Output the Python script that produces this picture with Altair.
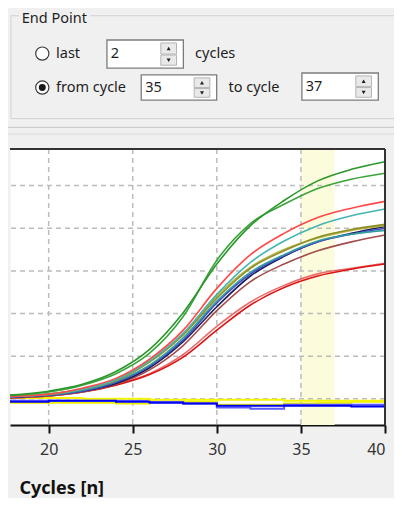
import altair as alt
import pandas as pd

# ---------------- data ----------------
cycles = [17, 20, 22, 24, 26, 28, 30, 32, 34, 36, 38, 40]
green_a = [70, 180, 340, 640, 1160, 2020, 3160, 4060, 4650, 5110, 5380, 5560]
green_b = [70, 160, 320, 590, 1070, 1930, 3250, 4110, 4560, 4930, 5150, 5290]
red_a = [50, 110, 250, 480, 930, 1610, 2590, 3380, 3880, 4250, 4470, 4630]
teal_a = [50, 110, 230, 450, 890, 1540, 2450, 3200, 3700, 4060, 4290, 4450]
olive_a = [50, 110, 230, 430, 860, 1500, 2360, 3060, 3470, 3790, 3970, 4090]
olive_b = [50, 110, 230, 450, 890, 1520, 2410, 3090, 3500, 3770, 3950, 4060]
teal_b = [50, 90, 200, 410, 790, 1430, 2290, 2970, 3380, 3700, 3860, 3950]
navy_a = [20, 90, 180, 360, 730, 1340, 2160, 2880, 3340, 3680, 3880, 4040]
blue_a = [20, 90, 180, 390, 770, 1380, 2250, 2930, 3360, 3680, 3860, 4000]
brown_a = [20, 70, 160, 340, 680, 1250, 2070, 2750, 3160, 3470, 3680, 3840]
red_b = [20, 70, 160, 320, 570, 980, 1610, 2200, 2610, 2880, 3040, 3160]
red_c = [20, 70, 160, 340, 590, 1040, 1700, 2270, 2660, 2930, 3060, 3180]
yellow_a = [20, 20, 0, 0, -20, -20, -20, -20, -45, -45, -45, -45]
yellow_b = [-90, -90, -90, -110, -70, -70, -140, -140, -110, -90, -70, -45]
blue_b = [-70, -45, -45, -70, -90, -110, -160, -160, -160, -160, -180, -250]
blue_c = [-45, -45, -45, -45, -70, -110, -200, -230, -140, -140, -140, -180]

amp_names = ["red_c", "red_b", "brown_a", "navy_a", "blue_a", "teal_b", "olive_b",
             "olive_a", "teal_a", "red_a", "green_b", "green_a"]
amp_series = [red_c, red_b, brown_a, navy_a, blue_a, teal_b, olive_b,
              olive_a, teal_a, red_a, green_b, green_a]
amp_colors = ["#e86a6a", "#dd1414", "#a34c4c", "#1c1c5c", "#4646c4", "#2f9f9f", "#b4b43e",
              "#8f8f28", "#45b4b4", "#ff4848", "#3aa43a", "#2c962c"]
base_names = ["yellow_b", "blue_c", "yellow_a", "blue_b"]
base_series = [yellow_b, blue_c, yellow_a, blue_b]
base_colors = ["#eded00", "#5a5aff", "#f5f500", "#0000ee"]

x_ticks = [20, 25, 30, 35, 40]
x_grid = [20, 25, 30, 35]
y_grid = [0, 1000, 2000, 3000, 4000, 5000]
x_domain = [17.7, 40]
y_domain = [-613, 5857]
band_start, band_end = 35, 37

end_point_title = "End Point"
last_value, from_value, to_value = "2", "35", "37"

# ---------------- layout helpers ----------------
PL, PT, W, H = 2, 141, 375, 276
PR, PB = 9, 73
SX, SY = 386 / 394, 490 / 505


def X(rx):
    return (rx - 8) * SX - PL


def Y(ry):
    return (ry - 8) * SY - PT


UI_FONT = "Noto Sans"
one = pd.DataFrame({"k": [0]})

amp_df = pd.DataFrame(
    [{"cycle": c, "value": v, "well": n} for n, s in zip(amp_names, amp_series) for c, v in zip(cycles, s)]
)
base_df = pd.DataFrame(
    [{"cycle": c, "value": v, "well": n} for n, s in zip(base_names, base_series) for c, v in zip(cycles, s)]
)

xs = alt.Scale(domain=x_domain, nice=False, zero=False)
ys = alt.Scale(domain=y_domain, nice=False, zero=False)

x_axis = alt.Axis(values=x_ticks, format="d", grid=False, domainColor="#111", domainWidth=2,
                  tickColor="#111", tickWidth=2, tickSize=8, labelFontSize=16, labelColor="#333",
                  labelFont=UI_FONT, labelPadding=8, title="Cycles [n]", titleFont=UI_FONT,
                  titleFontSize=18, titleFontWeight="bold", titleColor="#111", titleAlign="left",
                  titleBaseline="middle", titleX=9, titleY=63, titleAngle=0)

band = alt.Chart(pd.DataFrame({"s": [band_start], "e": [band_end]})).mark_rect(
    fill="#fcfcdc").encode(x=alt.X("s:Q", scale=xs, axis=x_axis), x2="e:Q")

vgrid = alt.Chart(pd.DataFrame({"g": x_grid})).mark_rule(
    color="#bcbcbc", strokeDash=[5, 4], strokeWidth=1.5).encode(x=alt.X("g:Q", scale=xs))
hgrid = alt.Chart(pd.DataFrame({"g": y_grid})).mark_rule(
    color="#bcbcbc", strokeDash=[5, 4], strokeWidth=1.5).encode(y=alt.Y("g:Q", scale=ys, axis=None))

base_lines = alt.Chart(base_df).mark_line(clip=True, strokeWidth=2, interpolate="step-after").encode(
    x=alt.X("cycle:Q", scale=xs),
    y=alt.Y("value:Q", scale=ys, axis=None),
    color=alt.Color("well:N", scale=alt.Scale(domain=base_names, range=base_colors), legend=None),
    detail="well:N",
)
amp_lines = alt.Chart(amp_df).mark_line(clip=True, strokeWidth=1.6, interpolate="monotone").encode(
    x=alt.X("cycle:Q", scale=xs),
    y=alt.Y("value:Q", scale=ys, axis=None),
    stroke=alt.Stroke("well:N", scale=alt.Scale(domain=amp_names, range=amp_colors), legend=None),
    order=alt.Order("idx:Q"),
).transform_calculate(idx="indexof(" + str(amp_names) + ", datum.well)")

# plot frame (top and right borders)
frame_top = alt.Chart(one).mark_rule(color="#333", strokeWidth=2).encode(
    x=alt.value(0), x2=alt.value(W), y=alt.value(0))
frame_right = alt.Chart(one).mark_rule(color="#333", strokeWidth=2).encode(
    x=alt.value(W), y=alt.value(0), y2=alt.value(H))


# ---------------- "End Point" panel ----------------
def ui_rect(x1, y1, x2, y2, fill, stroke="transparent", sw=1):
    return alt.Chart(one).mark_rect(fill=fill, stroke=stroke, strokeWidth=sw).encode(
        x=alt.value(X(x1)), x2=alt.value(X(x2)), y=alt.value(Y(y1)), y2=alt.value(Y(y2)))


def ui_text(s, rx, ry, size=14.5, weight="normal", color="#1e1e1e"):
    return alt.Chart(one).mark_text(text=s, align="left", baseline="middle", font=UI_FONT,
                                    fontSize=size, fontWeight=weight, color=color).encode(
        x=alt.value(X(rx)), y=alt.value(Y(ry)))


def ui_hline(x1, x2, ry, color):
    return alt.Chart(one).mark_rule(color=color, strokeWidth=1).encode(
        x=alt.value(X(x1)), x2=alt.value(X(x2)), y=alt.value(Y(ry)))


def radio(rx, ry, checked):
    layers = [alt.Chart(one).mark_circle(size=175, fill="white", stroke="#3a3a3a", strokeWidth=1.2,
                                         opacity=1).encode(x=alt.value(X(rx)), y=alt.value(Y(ry)))]
    if checked:
        layers.append(alt.Chart(one).mark_circle(size=48, fill="#1a1a1a", opacity=1).encode(
            x=alt.value(X(rx)), y=alt.value(Y(ry))))
    return layers


def spinbox(x1, y1, x2, y2, value):
    bx = x2 - 23
    mid = (y1 + y2) / 2
    layers = [
        ui_rect(x1, y1, x2, y2, "white", "#7c7c7c", 1.3),
        ui_rect(bx, y1 + 3, bx + 16, mid, "#e9e9e9", "#b4b4b4", 1),
        ui_rect(bx, mid + 1, bx + 16, y2 - 3, "#e9e9e9", "#b4b4b4", 1),
        alt.Chart(one).mark_point(shape="triangle-up", size=16, filled=True, color="#222", opacity=1).encode(
            x=alt.value(X(bx + 8)), y=alt.value(Y((y1 + 3 + mid) / 2))),
        alt.Chart(one).mark_point(shape="triangle-down", size=16, filled=True, color="#222", opacity=1).encode(
            x=alt.value(X(bx + 8)), y=alt.value(Y((mid + 1 + y2 - 3) / 2))),
        ui_text(value, x1 + 4, (y1 + y2) / 2),
    ]
    return layers


panel = [
    alt.Chart(one).mark_rect(fill="transparent", stroke="#d2d2d2", strokeWidth=1).encode(
        x=alt.value(X(11)), x2=alt.value(X(420)), y=alt.value(Y(16)), y2=alt.value(Y(122))),
    ui_rect(19, 9, 92, 24, "#f0f0f0"),
    ui_text(end_point_title, 22, 19.5, size=14.5),
    *radio(43, 55, False),
    ui_text("last", 57, 55),
    *spinbox(109, 41, 187, 70, last_value),
    ui_text("cycles", 199, 55),
    *radio(43, 90, True),
    ui_text("from cycle", 57, 90),
    *spinbox(144, 77, 221, 103, from_value),
    ui_text("to cycle", 233, 90),
    *spinbox(308, 75, 386, 103, to_value),
    ui_hline(8, 410, 131, "#c4c4c4"),
    ui_hline(8, 410, 138, "#dadada"),
]

chart = alt.layer(
    band, vgrid, hgrid, base_lines, amp_lines, frame_top, frame_right, *panel
).properties(
    width=W, height=H,
    padding={"left": PL, "top": PT, "right": PR, "bottom": PB},
    autosize=alt.AutoSizeParams(type="none"),
    background="#f0f0f0",
).configure_view(fill="white", stroke="transparent")

chart.save("out.html", embed_options={"renderer": "svg", "actions": False})
